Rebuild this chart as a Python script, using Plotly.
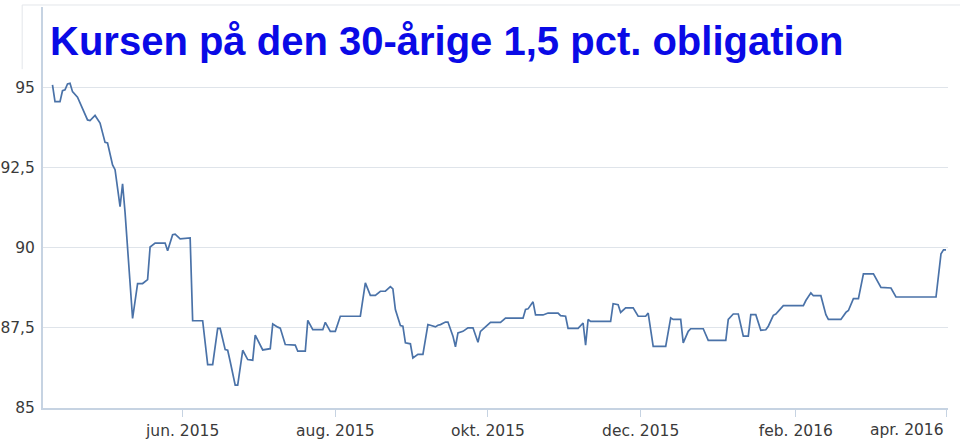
import plotly.graph_objects as go

title_text = "Kursen på den 30-årige 1,5 pct. obligation"

dates = [
    "2015-04-10", "2015-04-11", "2015-04-13", "2015-04-14", "2015-04-15", "2015-04-16",
    "2015-04-17", "2015-04-18", "2015-04-20", "2015-04-22", "2015-04-24", "2015-04-25",
    "2015-04-27", "2015-04-29", "2015-05-01", "2015-05-02", "2015-05-04", "2015-05-05",
    "2015-05-07", "2015-05-08", "2015-05-09", "2015-05-12", "2015-05-14", "2015-05-16",
    "2015-05-18", "2015-05-19", "2015-05-21", "2015-05-25", "2015-05-26", "2015-05-28",
    "2015-05-29", "2015-05-31", "2015-06-04", "2015-06-05", "2015-06-09", "2015-06-11",
    "2015-06-13", "2015-06-15", "2015-06-16", "2015-06-18", "2015-06-19", "2015-06-20",
    "2015-06-22", "2015-06-23", "2015-06-25", "2015-06-27", "2015-06-29", "2015-06-30",
    "2015-07-03", "2015-07-06", "2015-07-07", "2015-07-09", "2015-07-10", "2015-07-12",
    "2015-07-16", "2015-07-17", "2015-07-20", "2015-07-21", "2015-07-23", "2015-07-27",
    "2015-07-28", "2015-07-30", "2015-08-01", "2015-08-03", "2015-08-11", "2015-08-13",
    "2015-08-15", "2015-08-17", "2015-08-19", "2015-08-21", "2015-08-23", "2015-08-24",
    "2015-08-25", "2015-08-27", "2015-08-28", "2015-08-29", "2015-08-31", "2015-09-01",
    "2015-09-03", "2015-09-05", "2015-09-07", "2015-09-08", "2015-09-10", "2015-09-11",
    "2015-09-12", "2015-09-14", "2015-09-15", "2015-09-17", "2015-09-18", "2015-09-19",
    "2015-09-21", "2015-09-23", "2015-09-25", "2015-09-27", "2015-09-28", "2015-09-30",
    "2015-10-02", "2015-10-06", "2015-10-08", "2015-10-15", "2015-10-16", "2015-10-17",
    "2015-10-19", "2015-10-20", "2015-10-23", "2015-10-25", "2015-10-29", "2015-10-30",
    "2015-11-01", "2015-11-02", "2015-11-06", "2015-11-08", "2015-11-09", "2015-11-10",
    "2015-11-11", "2015-11-19", "2015-11-20", "2015-11-22", "2015-11-23", "2015-11-25",
    "2015-11-28", "2015-11-30", "2015-12-03", "2015-12-04", "2015-12-06", "2015-12-11",
    "2015-12-13", "2015-12-14", "2015-12-17", "2015-12-18", "2015-12-20", "2015-12-21",
    "2015-12-26", "2015-12-28", "2016-01-04", "2016-01-05", "2016-01-07", "2016-01-09",
    "2016-01-11", "2016-01-13", "2016-01-14", "2016-01-16", "2016-01-18", "2016-01-20",
    "2016-01-21", "2016-01-23", "2016-01-24", "2016-01-27", "2016-02-04", "2016-02-05",
    "2016-02-07", "2016-02-08", "2016-02-11", "2016-02-13", "2016-02-14", "2016-02-19",
    "2016-02-21", "2016-02-22", "2016-02-24", "2016-02-26", "2016-02-28", "2016-03-03",
    "2016-03-06", "2016-03-10", "2016-03-12", "2016-03-28", "2016-03-30", "2016-03-31",
    "2016-04-01",
]

kurs = [
    95.07, 94.55, 94.55, 94.89, 94.92, 95.10,
    95.12, 94.86, 94.69, 94.35, 93.98, 93.96,
    94.12, 93.88, 93.28, 93.26, 92.58, 92.43,
    91.28, 91.99, 91.09, 87.79, 88.88, 88.88,
    89.00, 90.02, 90.14, 90.14, 89.90, 90.40,
    90.42, 90.27, 90.30, 87.72, 87.72, 86.35,
    86.35, 87.48, 87.48, 86.82, 86.80, 86.45,
    85.71, 85.71, 86.80, 86.51, 86.49, 87.27,
    86.81, 86.85, 87.62, 87.52, 87.49, 86.98,
    86.96, 86.77, 86.77, 87.73, 87.44, 87.44,
    87.67, 87.39, 87.39, 87.86, 87.86, 88.90,
    88.51, 88.51, 88.64, 88.64, 88.78, 88.71,
    88.07, 87.57, 87.55, 87.03, 87.00, 86.56,
    86.67, 86.67, 87.60, 87.58, 87.53, 87.58,
    87.60, 87.68, 87.68, 87.24, 86.91, 87.34,
    87.39, 87.50, 87.50, 87.05, 87.39, 87.53,
    87.67, 87.67, 87.80, 87.80, 88.07, 88.09,
    88.31, 87.90, 87.90, 87.96, 87.96, 87.88,
    87.86, 87.48, 87.48, 87.65, 86.96, 87.76,
    87.70, 87.70, 88.25, 88.22, 87.98, 88.12,
    88.12, 87.86, 87.86, 87.96, 86.92, 86.92,
    87.81, 87.76, 87.76, 87.03, 87.39, 87.47,
    87.47, 87.11, 87.11, 87.76, 87.93, 87.93,
    87.24, 87.24, 87.91, 87.91, 87.42, 87.44,
    87.55, 87.89, 87.93, 88.19, 88.19, 88.35,
    88.59, 88.50, 88.50, 87.91, 87.76, 87.76,
    87.98, 88.04, 88.41, 88.41, 89.18, 89.18,
    88.76, 88.74, 88.46, 88.46, 89.81, 89.93,
    89.93,
]

x_tick_vals = ["2015-06-01", "2015-08-01", "2015-10-01", "2015-12-01", "2016-02-01", "2016-04-01"]
x_tick_text = ["jun. 2015", "aug. 2015", "okt. 2015", "dec. 2015", "feb. 2016", "apr. 2016"]
y_tick_vals = [85, 87.5, 90, 92.5, 95]
y_tick_text = ["85", "87,5", "90", "92,5", "95"]

TICK_FONT = dict(family="DejaVu Sans, Verdana, sans-serif", size=15.5, color="#3a3a3a")

fig = go.Figure()
fig.add_trace(go.Scatter(
    x=dates, y=kurs, mode="lines",
    line=dict(color="#4a72a8", width=1.7),
    showlegend=False,
))

fig.update_layout(
    width=960, height=448,
    margin=dict(l=43, r=12, t=7, b=40, autoexpand=False),
    paper_bgcolor="white", plot_bgcolor="white",
    font=TICK_FONT,
)

# last label is drawn right-aligned to its tick (as in the reference)
shown_tick_text = x_tick_text[:-1] + [""]

fig.update_xaxes(
    type="date",
    range=["2015-04-06 05:00", "2016-04-01 19:00"],
    tickvals=x_tick_vals, ticktext=shown_tick_text,
    showgrid=False, showline=True, linecolor="#c6d3e2", linewidth=2,
    ticks="outside", ticklen=7, tickcolor="#c6d3e2", tickwidth=1,
    tickfont=TICK_FONT, automargin=False,
    zeroline=False,
)
fig.update_yaxes(
    range=[85, 97.5],
    tickvals=y_tick_vals, ticktext=y_tick_text,
    showgrid=True, gridcolor="#dfe4ea", gridwidth=1,
    showline=True, linecolor="#c6d3e2", linewidth=2,
    ticks="", ticklabelstandoff=3,
    tickfont=TICK_FONT, automargin=False,
    zeroline=False,
)

fig.add_annotation(
    text=x_tick_text[-1], xref="x", yref="paper",
    x=x_tick_vals[-1], y=0, yshift=-11, xanchor="right", yanchor="top",
    showarrow=False, font=TICK_FONT,
)

# faint outer frame lines at top and upper-left
fig.add_shape(type="line", xref="paper", yref="paper",
              x0=-0.023, x1=1.02, y0=1.005, y1=1.005,
              line=dict(color="#e3e6ea", width=1))
fig.add_shape(type="line", xref="paper", yref="paper",
              x0=-0.023, x1=-0.023, y0=1.005, y1=0.845,
              line=dict(color="#e3e6ea", width=1))

fig.add_annotation(
    text="<b>" + title_text + "</b>", xref="paper", yref="paper",
    x=0.006, y=0.975, xanchor="left", yanchor="top", showarrow=False,
    font=dict(family="Liberation Sans, Arial, sans-serif", size=40, color="#0a0ae6"),
)

fig.write_html(
    "out.html",
    config={"displayModeBar": False},
    post_script="document.body.style.margin='0';",
)
